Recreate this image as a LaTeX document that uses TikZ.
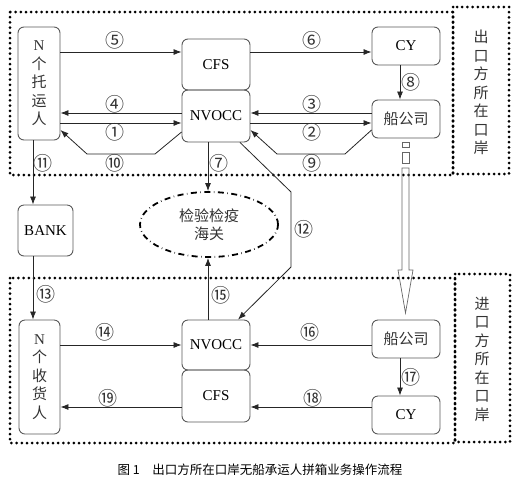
\documentclass[tikz,border=0pt]{standalone}
\usepackage{fontspec}
\setmainfont{Liberation Serif}
\newfontfamily\cjk{Noto Sans CJK SC}
\usetikzlibrary{shapes.geometric,arrows.meta}

\begin{document}
\begin{tikzpicture}[x=1pt,y=-1pt,
  box/.style={draw=black!65,line width=0.9pt,rounded corners=6pt,inner sep=0pt,font=\fontsize{15}{18.5}\selectfont},
  boxT/.style={box,minimum width=42,minimum height=113,align=center,font=\cjk\fontsize{15}{18.5}\selectfont,text=black!80},
  boxW/.style={box,minimum width=68,minimum height=51},
  boxS/.style={box,minimum width=68,minimum height=38},
  zh/.style={font=\cjk\fontsize{15}{18.5}\selectfont,text=black!80},
  arr/.style={draw=black!85,line width=0.8pt,-{Latex[length=8pt,width=6pt]}},
  num/.style={font=\cjk\fontsize{19}{19}\selectfont,inner sep=0pt,text=black!80},
  port/.style={line width=3pt,dash pattern=on 0pt off 5.2pt,line cap=round}]
\useasboundingbox (0,0) rectangle (518,480);

\draw[port] (10,12) rectangle (453,175);
\draw[port] (453,7) rectangle (509,174);
\draw[port] (10,278) rectangle (455,443);
\draw[port] (455,274) rectangle (510,442);
\node[zh,align=center] (EXP) at (481,92.5) {出\\口\\方\\所\\在\\口\\岸};
\node[zh,align=center] (IMP) at (482,359) {进\\口\\方\\所\\在\\口\\岸};

\node[boxT] (N1) at (39,83.5) {{\rmfamily N}\\个\\托\\运\\人};
\node[boxW] (CFS1) at (216,64.5) {CFS};
\node[boxW,minimum height=52] (NV1) at (216,116) {NVOCC};
\node[boxS] (CY1) at (406,46) {CY};
\node[boxS,zh] (SC1) at (406,119) {船公司};

\node[boxW,minimum width=55] (BANK) at (45.5,230.5) {BANK};
\node[ellipse,draw,line width=1.8pt,dash pattern=on 6pt off 3.5pt on 0.5pt off 3.5pt,minimum width=138,minimum height=65,inner sep=0pt,zh,align=center] (HG) at (209,224.5) {检验检疫\\海关};

\node[boxT,minimum width=41,minimum height=114] (N2) at (39.5,377) {{\rmfamily N}\\个\\收\\货\\人};
\node[boxW,minimum height=50] (NV2) at (216,345) {NVOCC};
\node[boxW,minimum height=52] (CFS2) at (216,396) {CFS};
\node[boxS,zh] (SC2) at (406,339) {船公司};
\node[boxS] (CY2) at (406,415) {CY};

\draw[arr] (N1.east |- 0,52) -- node[num,pos=.45,above=2pt] {⑤} (CFS1.west |- 0,52);
\draw[arr] (CFS1.east |- 0,52) -- node[num,pos=.51,above=2pt] {⑥} (CY1.west |- 0,52);
\draw[arr] (NV1.west |- 0,113) -- node[num,pos=.55,above=-1pt] {④} (N1.east |- 0,113);
\draw[arr] (N1.east |- 0,123) -- node[num,pos=.45,below=0pt] {①} (NV1.west |- 0,123);
\draw[arr] (SC1.west |- 0,113) -- node[num,pos=.49,above=-1pt] {③} (NV1.east |- 0,113);
\draw[arr] (NV1.east |- 0,123) -- node[num,pos=.51,below=0pt] {②} (SC1.west |- 0,123);
\draw[arr] (NV1.west |- 0,132) -- (155,154) -- node[num,pos=.59,below=0pt] {⑩} (87,154) -- (N1.east |- 0,130);
\draw[arr] (SC1.west |- 0,130) -- (345,154) -- node[num,pos=.49,below=0pt] {⑨} (277,154) -- (NV1.east |- 0,130);
\draw[arr] (CY1.south -| 400,0) -- node[num,right=1pt] {⑧} (SC1.north -| 400,0);
\draw[arr] (N1.south -| 33,0) -- node[num,pos=.35,right=0pt] {⑪} (BANK.north -| 33,0);
\draw[arr] (NV1.south -| 208,0) -- node[num,pos=.42,right=1pt] {⑦} (HG.north -| 208,0);
\draw[arr] (NV1.south -| 240,0) -- (291,192) -- node[num,right=3pt] {⑫} (291,267) -- (NV2.north -| 238,0);
\draw[arr] (BANK.south -| 33,0) -- node[num,pos=.6,right=3pt] {⑬} (N2.north -| 33,0);
\draw[arr] (NV2.north -| 208,0) -- node[num,pos=.4,right=3pt] {⑮} (HG.south -| 208,0);
\draw[arr] (N2.east |- 0,345) -- node[num,pos=.37,above=3pt] {⑭} (NV2.west |- 0,345);
\draw[arr] (SC2.west |- 0,345) -- node[num,pos=.51,above=3pt] {⑯} (NV2.east |- 0,345);
\draw[arr] (SC2.south -| 400,0) -- node[num,right=1pt] {⑰} (CY2.north -| 400,0);
\draw[arr] (CY2.west |- 0,407) -- node[num,pos=.48,above=-1pt] {⑱} (CFS2.east |- 0,407);
\draw[arr] (CFS2.west |- 0,407) -- node[num,pos=.61,above=-1pt] {⑲} (N2.east |- 0,407);

\draw[black!60,line width=0.7pt] (402,142) rectangle (409,147) (402,152) rectangle (409,163);
\draw[black!60,line width=0.7pt] (402,168) -- (409,168) -- (409,270) -- (413,270) -- (405.5,313) -- (398,270) -- (402,270) -- cycle;

\node[font=\cjk\fontsize{12.5}{14}\selectfont] (CAP) at (260,470) {图 1\quad 出口方所在口岸无船承运人拼箱业务操作流程};
\end{tikzpicture}
\end{document}
